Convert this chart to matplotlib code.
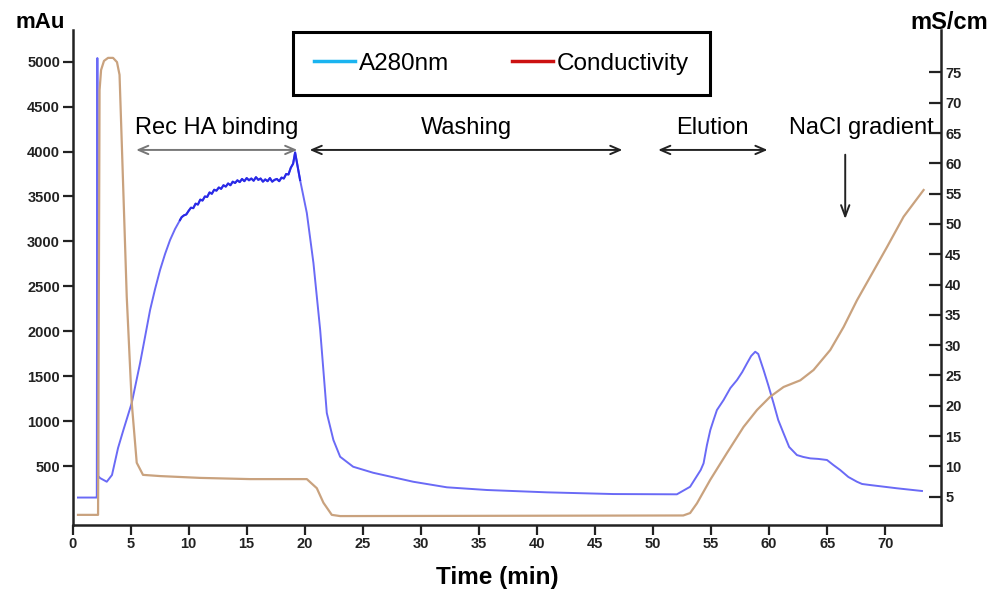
import matplotlib
matplotlib.use('Agg')
import matplotlib.pyplot as plt
from matplotlib.lines import Line2D

plt.rcParams['font.family'] = ['Liberation Sans', 'DejaVu Sans']

# A280 trace: time (min) / absorbance (mAu)
a280_time = [0.47, 1.98, 2.09, 2.14, 2.22, 2.37, 2.95, 3.40, 3.92, 4.38, 5.10, 5.82,
             6.25, 6.68, 7.11, 7.54, 7.97, 8.40, 8.83, 9.26,
             9.4, 9.6, 9.8, 10.0, 10.2, 10.4, 10.6, 10.8, 11.0, 11.2, 11.4, 11.6, 11.8,
             12.0, 12.2, 12.4, 12.6, 12.8, 13.0, 13.2, 13.4, 13.6, 13.8, 14.0, 14.2,
             14.4, 14.6, 14.8, 15.0, 15.2, 15.4, 15.6, 15.8, 16.0, 16.2, 16.4, 16.6,
             16.8, 17.0, 17.2, 17.4, 17.6, 17.8, 18.0, 18.2, 18.4, 18.6, 18.8, 19.0,
             19.17,
             19.60, 20.18, 20.75, 21.33, 21.90, 22.47, 23.05, 24.17, 25.89, 29.34,
             32.24, 35.69, 40.86, 46.57, 52.05, 53.19, 54.1, 54.35, 54.64, 54.93, 55.21,
             55.50, 56.07, 56.66, 57.23, 57.68, 58.09, 58.45, 58.80, 59.06, 59.52,
             59.92, 60.38, 60.78, 61.24, 61.72, 62.39, 62.93, 63.54, 64.23, 64.98,
             65.52, 66.12, 66.82, 67.56, 68.0, 68.71, 71.01, 73.16]
a280_mau = [149, 149, 149, 5041, 388, 366, 325, 400, 700, 900, 1201, 1646,
            1940, 2236, 2470, 2682, 2860, 3015, 3138, 3238,
            3270, 3290, 3300, 3340, 3375, 3370, 3420, 3410, 3465, 3455, 3500, 3495, 3545,
            3530, 3575, 3565, 3600, 3585, 3625, 3610, 3645, 3625, 3665, 3650, 3680,
            3660, 3695, 3670, 3705, 3680, 3700, 3675, 3715, 3685, 3700, 3665, 3690,
            3670, 3705, 3665, 3685, 3695, 3670, 3710, 3700, 3750, 3745, 3820, 3865,
            3990,
            3683, 3316, 2759, 2014, 1090, 789, 603, 492, 425, 325,
            263, 233, 207, 188, 185, 269, 455, 530, 733, 900, 1012,
            1123, 1234, 1368, 1457, 1546, 1643, 1725, 1772, 1747, 1568,
            1401, 1198, 1012, 864, 712, 622, 601, 585, 579, 567,
            512, 455, 378, 325, 300, 288, 252, 222]

# Conductivity trace: time (min) / mS/cm
cond_time = [0.47, 1.98, 2.20, 2.33, 2.46, 2.71, 3.06, 3.49, 3.83, 4.05, 4.24, 4.67,
             5.10, 5.53, 6.07, 7.54, 10.99, 15.29, 20.18, 21.04, 21.61, 22.33, 23.05,
             52.6, 53.19, 53.78, 54.93, 56.36, 57.79, 58.95, 60.09, 61.24, 62.68,
             63.82, 65.26, 66.41, 67.56, 68.71, 70.15, 71.58, 73.30]
cond_ms = [2.0, 2.0, 2.0, 72.1, 75.4, 76.9, 77.4, 77.4, 76.7, 74.6, 63.5, 38.0,
           20.5, 10.6, 8.6, 8.4, 8.1, 7.9, 7.9, 6.4, 4.0, 2.0, 1.8,
           1.9, 2.3, 3.9, 7.8, 12.2, 16.5, 19.3, 21.5, 23.1, 24.2,
           25.9, 29.2, 33.0, 37.4, 41.3, 46.2, 51.2, 55.6]

x_ticks = list(range(0, 75, 5))
mau_ticks = list(range(500, 5001, 500))
ms_ticks = list(range(5, 80, 5))

phase_names = ['Rec HA binding', 'Washing', 'Elution']
phase_from = [5.24, 20.18, 50.2]
phase_to = [19.6, 47.6, 60.1]

fig = plt.figure(figsize=(10.03, 5.94), dpi=100)
ax = fig.add_axes([0.0723, 0.117, 0.8659, 0.8325])
ax2 = ax.twinx()

ax.plot(a280_time, a280_mau, color='#6a6af6', lw=1.4, zorder=3)
ax.plot(a280_time[19:71], a280_mau[19:71], color='#2a2ae6', lw=1.5, zorder=3)
ax2.plot(cond_time, cond_ms, color='#c9a27e', lw=1.6, zorder=2)

ax.set_xlim(0, 74.8)
ax.set_ylim(-151, 5353)
ax2.set_ylim(0.41, 82.0)

ax.set_xticks(x_ticks)
ax.set_yticks(mau_ticks)
ax2.set_yticks(ms_ticks)

for a in (ax, ax2):
    a.spines['top'].set_visible(False)
    for s in a.spines.values():
        s.set_linewidth(1.8)
        s.set_color('#222222')
ax.spines['right'].set_visible(False)
ax2.spines['left'].set_visible(False)
ax2.spines['bottom'].set_visible(False)

ax.tick_params(axis='both', direction='out', length=7, width=1.6, color='#222222',
               labelsize=10.5, pad=2)
ax2.tick_params(axis='y', direction='in', length=9, width=1.6, color='#222222',
                labelsize=10.5, pad=3)
for lab in ax.get_xticklabels() + ax.get_yticklabels() + ax2.get_yticklabels():
    lab.set_fontweight('bold')
    lab.set_color('#222222')

fig.text(0.040, 0.962, 'mAu', fontsize=16, fontweight='bold', ha='center', va='center')
fig.text(0.908, 0.962, 'mS/cm', fontsize=17, fontweight='bold', ha='left', va='center')
fig.text(0.496, 0.027, 'Time (min)', fontsize=17.5, fontweight='bold', ha='center', va='center')

# phase annotations
arrow_y = 4018
text_y = 4262
for i, name in enumerate(phase_names):
    c = '#777777' if i == 0 else '#222222'
    ax.annotate('', xy=(phase_from[i], arrow_y), xytext=(phase_to[i], arrow_y),
                arrowprops=dict(arrowstyle='<->,head_length=0.7,head_width=0.3',
                                color=c, lw=1.4))
    ax.text((phase_from[i] + phase_to[i]) / 2, text_y, name, fontsize=17,
            ha='center', va='center')
ax.text(67.9, text_y, 'NaCl gradient', fontsize=17, ha='center', va='center')
ax.annotate('', xy=(66.55, 3218), xytext=(66.55, 3996),
            arrowprops=dict(arrowstyle='->,head_length=0.8,head_width=0.3',
                            color='#222222', lw=1.4))

handles = [Line2D([], [], color='#1ab4f0', lw=2.5), Line2D([], [], color='#cc1111', lw=2.5)]
leg = fig.legend(handles, ['A280nm', 'Conductivity'], ncol=2, loc='upper left',
                 bbox_to_anchor=(293 / 1003, 1 - 32 / 594), borderaxespad=0,
                 fontsize=17.5, handlelength=1.7, handletextpad=0.15, columnspacing=2.6,
                 borderpad=0.85, fancybox=False, framealpha=1, edgecolor='black')
leg.get_frame().set_linewidth(2.2)

fig.savefig('out.png', dpi=100)
